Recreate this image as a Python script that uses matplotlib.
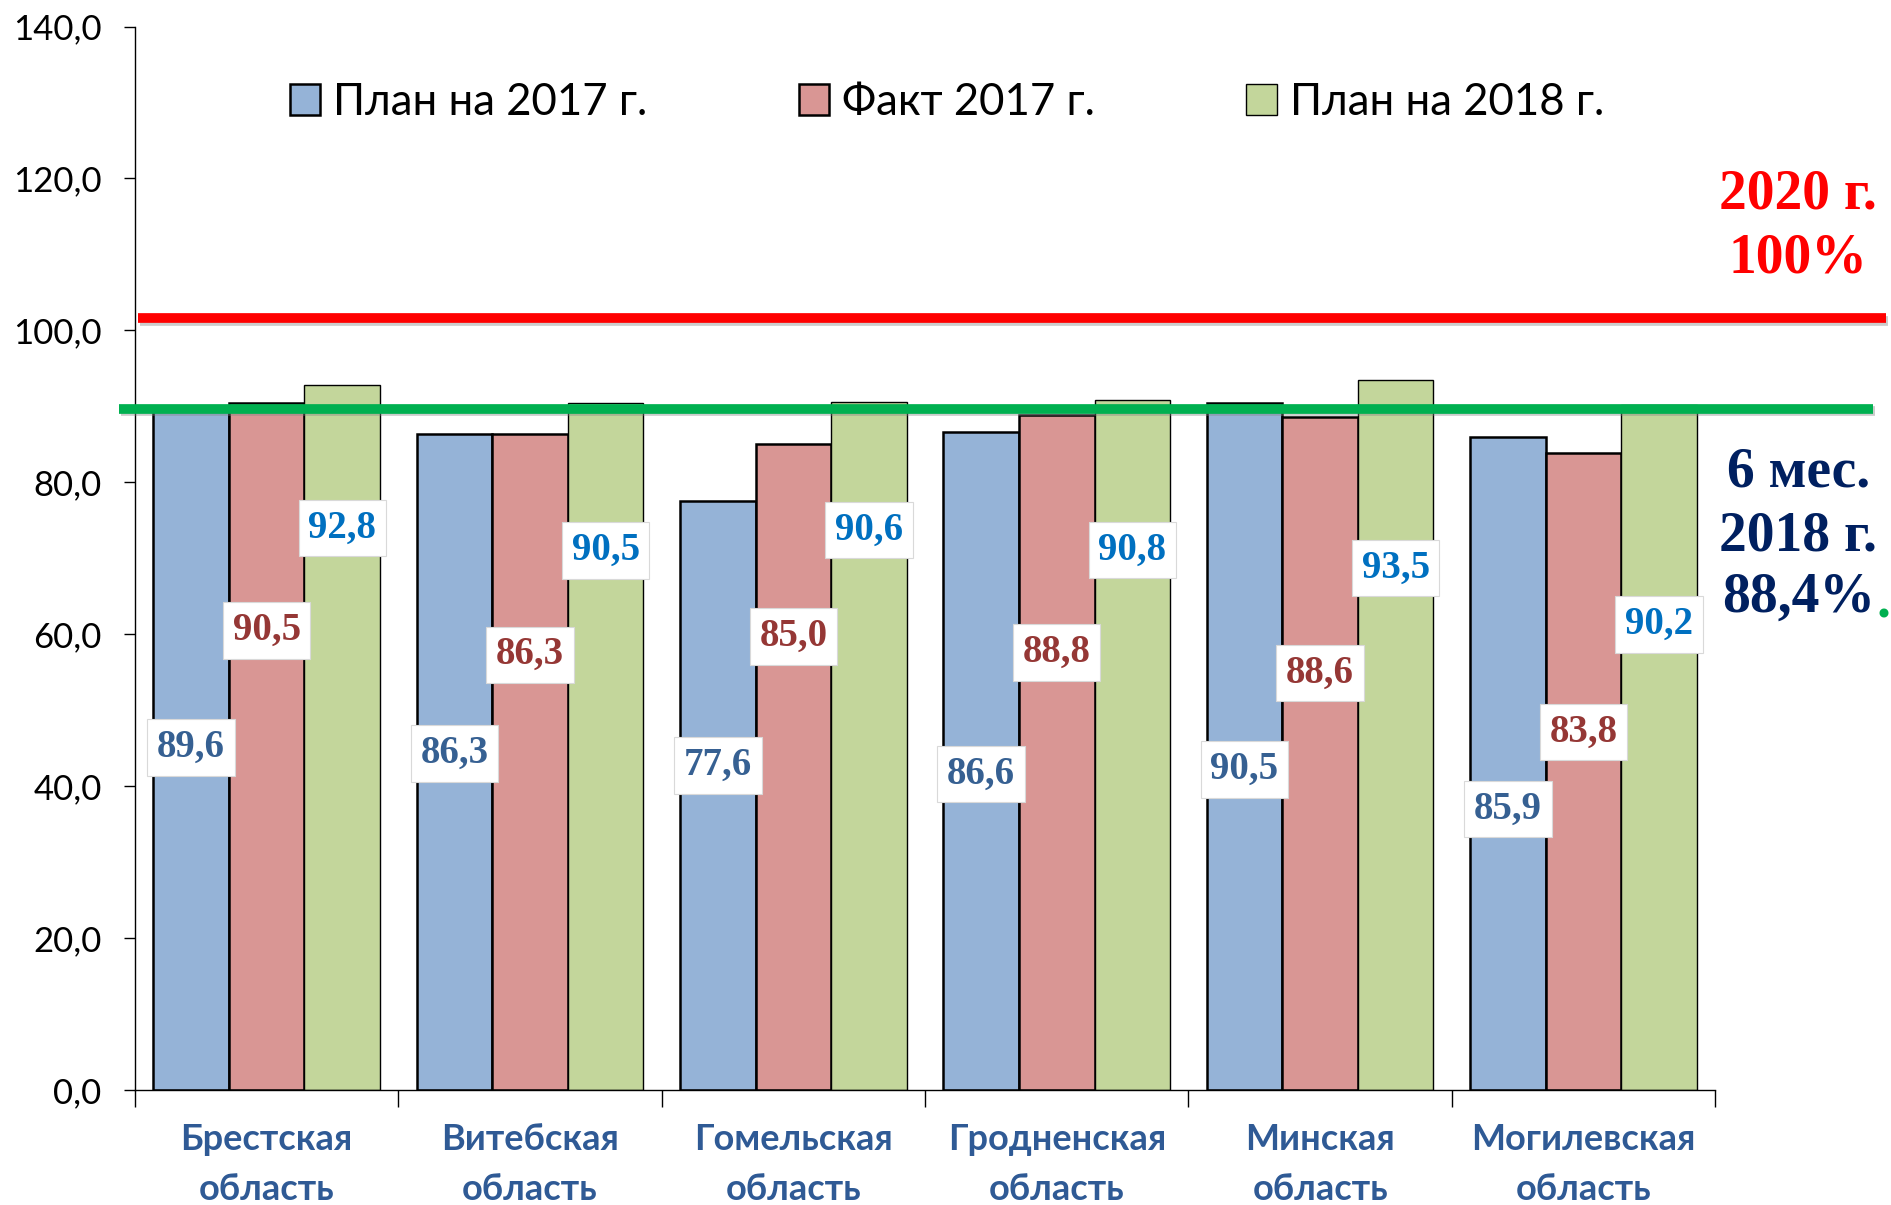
import numpy as np
import matplotlib.pyplot as plt
import matplotlib.patheffects as pe

# regions and values (%)
regions = ["Брестская\nобласть", "Витебская\nобласть", "Гомельская\nобласть",
           "Гродненская\nобласть", "Минская\nобласть", "Могилевская\nобласть"]
plan_2017 = [89.6, 86.3, 77.6, 86.6, 90.5, 85.9]
fact_2017 = [90.5, 86.3, 85.0, 88.8, 88.6, 83.8]
plan_2018 = [92.8, 90.5, 90.6, 90.8, 93.5, 90.2]
series_names = ["План на 2017 г.", "Факт 2017 г.", "План на 2018 г."]

target_2020 = 101.6   # red line, drawn just above 100
fact_6m_2018 = 89.7   # green line

# where the value boxes sit inside the bars (data units)
label_y = {
    0: [45.1, 44.3, 42.7, 41.6, 42.2, 37.0],
    1: [60.5, 57.3, 59.7, 57.6, 54.9, 47.1],
    2: [74.0, 71.0, 73.7, 71.1, 68.7, 61.3],
}

fills = ["#95B3D7", "#D99694", "#C3D69B"]
label_colors = ["#366092", "#953735", "#0070C0"]

fig = plt.figure(figsize=(18.91, 12.05), dpi=100)
ax = fig.add_axes([0.0714, 0.0954, 0.8356, 0.8826])

x = np.arange(len(regions))
w = 0.287
series = [plan_2017, fact_2017, plan_2018]
for i, vals in enumerate(series):
    lw = 1.8 if i < 2 else 1.0
    ax.bar(x + (i - 1) * w, vals, width=w, color=fills[i], edgecolor="black",
           linewidth=lw, label=series_names[i], zorder=2)

# reference lines, stretching out past the plot like in the slide
shadow = [pe.SimpleLineShadow(offset=(1.5, -2), shadow_color="gray", alpha=0.4), pe.Normal()]
ax.plot([-0.49, 6.15], [target_2020, target_2020], color="#FF0000", lw=7,
        clip_on=False, zorder=3, solid_capstyle="butt", path_effects=shadow)
ax.plot([-0.56, 6.1], [fact_6m_2018, fact_6m_2018], color="#00B050", lw=7,
        clip_on=False, zorder=3, solid_capstyle="butt", path_effects=shadow)

for i, vals in enumerate(series):
    for j, v in enumerate(vals):
        ax.text(x[j] + (i - 1) * w, label_y[i][j], f"{v:.1f}".replace(".", ","),
                ha="center", va="center", fontsize=28, fontweight="bold",
                family="Liberation Serif", color=label_colors[i], zorder=5,
                bbox=dict(boxstyle="square,pad=0.25", fc="white", ec="#D9D9D9", lw=0.8))

ax.set_xlim(-0.5, len(regions) - 0.5)
ax.set_ylim(0, 140)
ax.set_yticks(np.arange(0, 141, 20))
ax.set_yticklabels([f"{t:.1f}".replace(".", ",") for t in np.arange(0, 141, 20)],
                   fontsize=25, family="Lato")
ax.tick_params(axis="y", length=8, width=1, pad=16)

ax.set_xticks(np.arange(-0.5, len(regions)), minor=False)
ax.set_xticklabels([])
ax.tick_params(axis="x", length=12, width=1)
ax.set_xticks(x, minor=True)
ax.set_xticklabels(regions, minor=True, fontsize=26, fontweight="bold",
                   family="Lato", color="#2F5A95", linespacing=1.6)
ax.tick_params(axis="x", which="minor", length=0, pad=24)

for s in ["top", "right"]:
    ax.spines[s].set_visible(False)
for s in ["left", "bottom"]:
    ax.spines[s].set_linewidth(1)

ax.legend(loc="upper left", bbox_to_anchor=(0.073, 0.985), ncol=3, frameon=False,
          prop={"family": "Lato", "size": 31.5}, handlelength=0.7, handleheight=0.7,
          handletextpad=0.3, columnspacing=3.45)

fig.text(0.951, 0.812, "2020 г.\n100%", ha="center", va="center", fontsize=40,
         fontweight="bold", family="Liberation Serif", color="#FF0000", linespacing=1.3)
fig.text(0.951, 0.581, "6 мес.\n2018 г.", ha="center", va="center", fontsize=40,
         fontweight="bold", family="Liberation Serif", color="#002060", linespacing=1.3)
pct = fig.text(0.951, 0.504, "88,4%", ha="center", va="center", fontsize=40,
               fontweight="bold", family="Liberation Serif", color="#002060")
# the green full stop after the percentage
ax.annotate(".", xy=(1.0, 0.0), xycoords=pct, xytext=(1, -4),
            textcoords="offset points", ha="left", va="bottom",
            fontsize=40, fontweight="bold", family="Liberation Serif",
            color="#00B050", annotation_clip=False)

fig.savefig("out.png", dpi=100)
